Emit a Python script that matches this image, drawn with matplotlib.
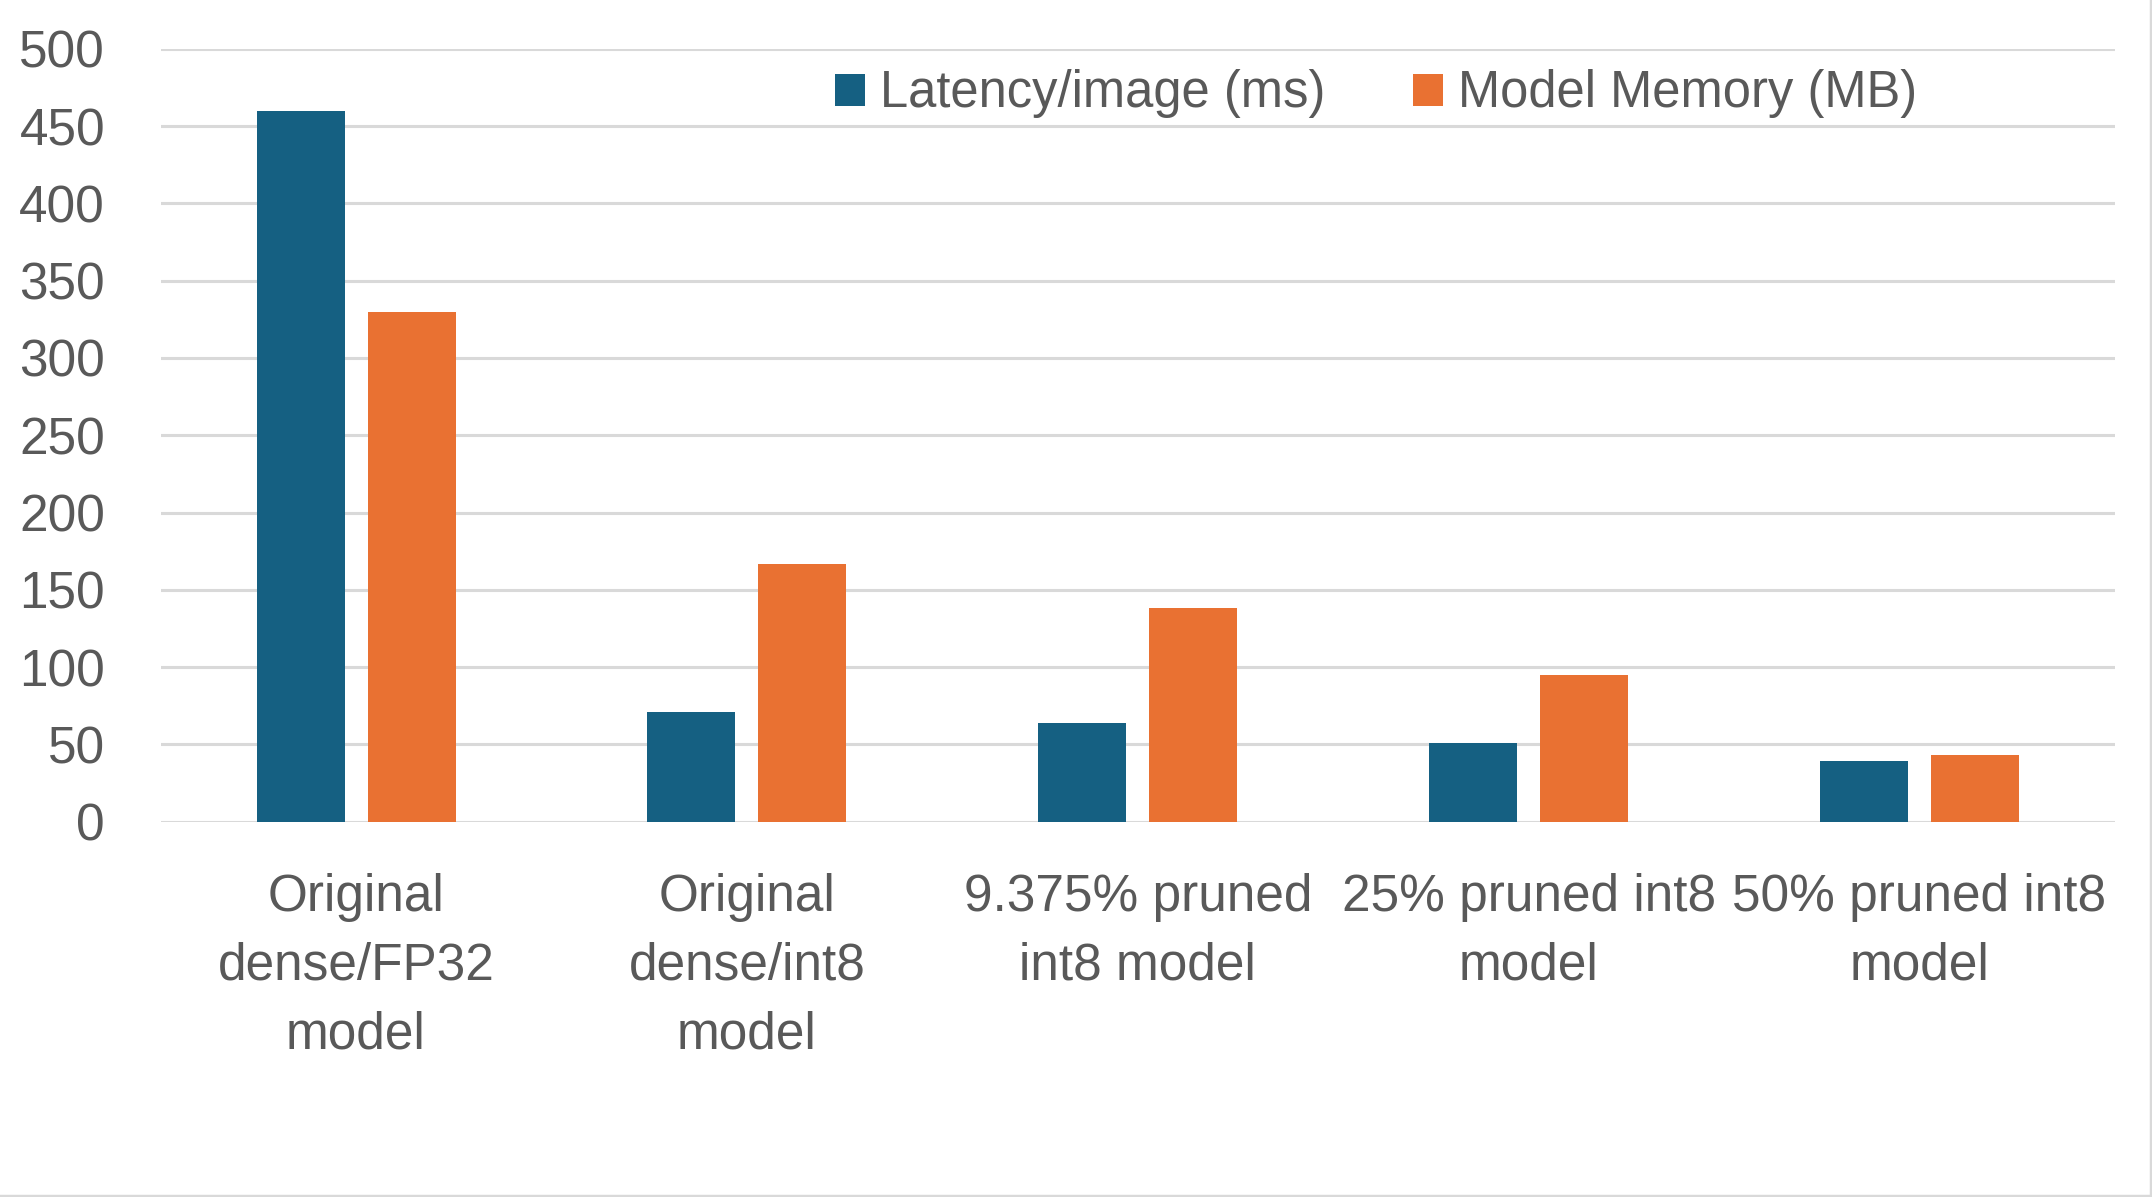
import matplotlib
matplotlib.use("Agg")
import matplotlib.pyplot as plt
import numpy as np
from matplotlib.patches import Patch
from matplotlib.lines import Line2D

categories = ["Original\ndense/FP32\nmodel", "Original\ndense/int8\nmodel",
              "9.375% pruned\nint8 model", "25% pruned int8\nmodel", "50% pruned int8\nmodel"]
latency = [460, 71, 64, 51, 39]
memory = [330, 167, 138, 95, 43]
series_names = ["Latency/image (ms)", "Model Memory (MB)"]
yticks = [0, 50, 100, 150, 200, 250, 300, 350, 400, 450, 500]

BLUE = "#156082"
ORANGE = "#E97132"
TEXT = "#595959"
GRID = "#D9D9D9"
FS = 37

plt.rcParams['font.family'] = ['Liberation Sans', 'DejaVu Sans']

W, H = 2152, 1197
fig = plt.figure(figsize=(W / 100, H / 100), dpi=100)
left, right = 160.6 / W, 2115 / W
top, bottom = 1 - 48.7 / H, 1 - 821.7 / H
ax = fig.add_axes([left, bottom, right - left, top - bottom])

x = np.arange(len(categories))
bw = 0.225
off = 0.142
ax.bar(x - off, latency, bw, color=BLUE, zorder=3)
ax.bar(x + off, memory, bw, color=ORANGE, zorder=3)

ax.set_xlim(-0.5, len(categories) - 0.5)
ax.set_ylim(0, 500)
ax.set_yticks(yticks)
ax.set_yticklabels([str(v) for v in yticks])
ax.set_xticks(x)
ax.set_xticklabels(categories, linespacing=1.52)
ax.grid(axis='y', color=GRID, linewidth=2.2, zorder=0)
ax.set_axisbelow(True)
for s in ax.spines.values():
    s.set_visible(False)
ax.tick_params(axis='both', length=0, labelsize=FS, labelcolor=TEXT)
ax.tick_params(axis='y', pad=40)
ax.tick_params(axis='x', pad=37)

handles = [Patch(facecolor=BLUE, edgecolor='none'), Patch(facecolor=ORANGE, edgecolor='none')]
leg = fig.legend(handles, series_names, loc='center', bbox_to_anchor=(1376 / W, 1 - 94 / H),
                 ncol=2, frameon=False, fontsize=36.5, handlelength=0.6, handleheight=0.6,
                 handletextpad=0.3, columnspacing=1.72, borderpad=0, borderaxespad=0)
for t in leg.get_texts():
    t.set_color(TEXT)

# light figure border on right and bottom
fig.add_artist(Line2D([1 - 1.5 / W, 1 - 1.5 / W], [0, 1], transform=fig.transFigure,
                      color=GRID, linewidth=2.5))
fig.add_artist(Line2D([0, 1], [1.5 / H, 1.5 / H], transform=fig.transFigure,
                      color=GRID, linewidth=2.5))

fig.savefig("out.png", dpi=100, facecolor='white')
